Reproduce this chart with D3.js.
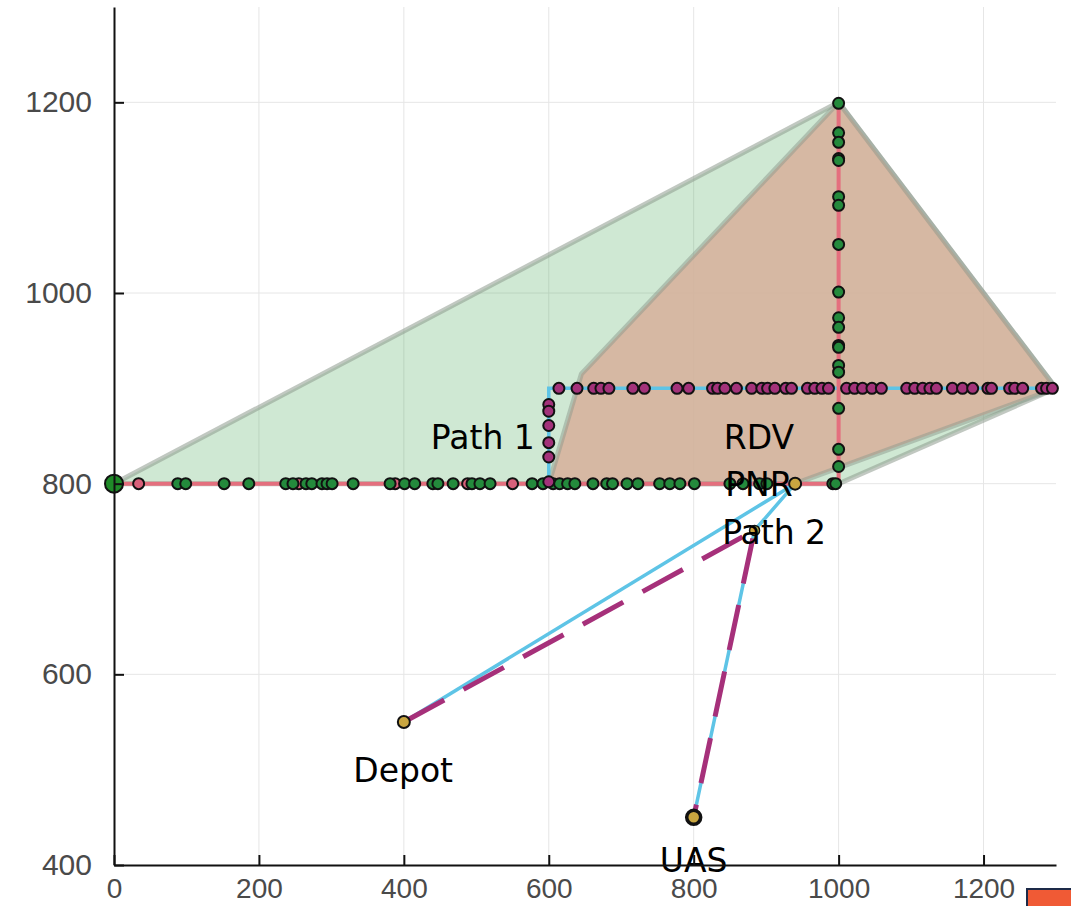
<!DOCTYPE html>
<html>
<head>
<meta charset="utf-8">
<script src="https://cdn.jsdelivr.net/npm/d3@7"></script>
<style>
  html, body { margin: 0; padding: 0; background: #fff; }
  svg { display: block; }
</style>
</head>
<body>
<div id="container"></div>
<script>
const W = 1071, H = 906;

// axes
const xTicks = [0, 200, 400, 600, 800, 1000, 1200];
const yTicks = [400, 600, 800, 1000, 1200];

// reachable regions (polygons)
const greenHull = [[0, 800], [1000, 1200], [1300, 900], [1000, 800]];
const brownHull = [[600, 800], [645, 915], [1000, 1200], [1300, 900], [940, 800]];

// path 1 (red) and its offset (cyan)
const redPath = [[0, 800], [1000, 800], [1000, 1200]];
const cyanPath = [[600, 800], [600, 900], [1300, 900]];
// path 2
const cyanDepot = [[400, 550], [940, 800]];
const cyanUas = [[940, 800], [884, 751], [800, 450]];
const dashedPath = [[400, 550], [884, 751], [800, 450]];

// samples along y = 800
const greenX800 = [88, 99, 152, 186, 237, 247, 265, 273, 287, 294, 301, 330, 381, 401, 415,
  440, 447, 468, 494, 505, 519, 577, 592, 606, 615, 626, 636, 661, 680, 688, 708, 723,
  753, 767, 781, 801, 850, 868, 891, 901, 992, 996];
const redX800 = [34, 255, 388, 488, 550];
// samples along x = 1000
const greenY1000 = [1199, 1168, 1158, 1141, 1139, 1101, 1092, 1051, 1001, 974, 964, 945,
  943, 924, 917, 879, 836, 818];
// samples along y = 900
const purpleX900 = [614, 639, 662, 672, 683, 716, 732, 777, 793, 826, 833, 843, 859, 880,
  894, 902, 912, 927, 935, 957, 967, 977, 986, 1011, 1022, 1033, 1046, 1059, 1094, 1105,
  1116, 1126, 1135, 1157, 1171, 1185, 1206, 1211, 1236, 1243, 1254, 1280, 1287, 1295];
// samples along x = 600
const purpleY600 = [883, 876, 861, 843, 828, 802];

// key points
const keyPoints = [
  { x: 400, y: 550, r: 6, sw: 2 },
  { x: 940, y: 800, r: 6, sw: 2 },
  { x: 884, y: 751, r: 5, sw: 1.5 },
  { x: 800, y: 450, r: 7, sw: 3.5 }
];

// labels
const labels = [
  { t: "Path 1", x: 509, y: 849 },
  { t: "RDV", x: 890, y: 849 },
  { t: "PNR", x: 890, y: 800 },
  { t: "Path 2", x: 911, y: 749 },
  { t: "Depot", x: 399, y: 500 },
  { t: "UAS", x: 800, y: 405 }
];

const x = d3.scaleLinear().domain([0, 1300]).range([114, 1056]);
const y = d3.scaleLinear().domain([400, 1300]).range([865, 7]);

const svg = d3.select("#container").append("svg")
  .attr("width", W).attr("height", H);

// grid
const grid = svg.append("g").attr("id", "grid");
grid.selectAll("line.v").data(xTicks.filter(d => d > 0)).enter().append("line")
  .attr("x1", d => x(d)).attr("x2", d => x(d))
  .attr("y1", y(400)).attr("y2", y(1300))
  .attr("stroke", "#e6e6e6").attr("stroke-width", 1);
grid.selectAll("line.h").data(yTicks.filter(d => d > 400)).enter().append("line")
  .attr("y1", d => y(d)).attr("y2", d => y(d))
  .attr("x1", x(0)).attr("x2", x(1300))
  .attr("stroke", "#e6e6e6").attr("stroke-width", 1);

const line = d3.line().x(d => x(d[0])).y(d => y(d[1]));
const poly = pts => line(pts) + "Z";

// polygons
svg.append("path").attr("d", poly(greenHull))
  .attr("fill", "#3ea44e").attr("fill-opacity", 0.25)
  .attr("stroke", "#8e9a8e").attr("stroke-opacity", 0.55).attr("stroke-width", 5)
  .attr("stroke-linejoin", "round");
svg.append("path").attr("d", poly(brownHull))
  .attr("fill", "#d6b29d").attr("fill-opacity", 0.9)
  .attr("stroke", "#8e9a8e").attr("stroke-opacity", 0.5).attr("stroke-width", 5)
  .attr("stroke-linejoin", "round");

// lines
svg.append("path").attr("d", line(cyanPath))
  .attr("fill", "none").attr("stroke", "#5ec4e6").attr("stroke-width", 3.5);
svg.append("path").attr("d", line(redPath))
  .attr("fill", "none").attr("stroke", "#e46f7e").attr("stroke-width", 4);
svg.append("path").attr("d", line(cyanDepot))
  .attr("fill", "none").attr("stroke", "#5ec4e6").attr("stroke-width", 3.5);
svg.append("path").attr("d", line(cyanUas))
  .attr("fill", "none").attr("stroke", "#5ec4e6").attr("stroke-width", 3.5);
svg.append("path").attr("d", line(dashedPath))
  .attr("fill", "none").attr("stroke", "#a6307a").attr("stroke-width", 5)
  .attr("stroke-dasharray", "46,22");

// points
function dots(data, cls, color, r) {
  svg.append("g").attr("class", cls).selectAll("circle").data(data).enter().append("circle")
    .attr("cx", d => x(d[0])).attr("cy", d => y(d[1])).attr("r", r)
    .attr("fill", color).attr("stroke", "#111").attr("stroke-width", 2);
}
dots(redX800.map(v => [v, 800]), "red", "#d8607a", 5.5);
dots(greenX800.map(v => [v, 800]), "green", "#248a3c", 5.5);
dots(greenY1000.map(v => [1000, v]), "green2", "#248a3c", 5.5);
dots(purpleY600.map(v => [600, v]), "purple", "#a3327a", 5.5);
dots(purpleX900.map(v => [v, 900]), "purple2", "#a3327a", 5.5);

svg.append("circle").attr("cx", x(0)).attr("cy", y(800)).attr("r", 9)
  .attr("fill", "#1f8a28").attr("stroke", "#111").attr("stroke-width", 2);

svg.append("g").selectAll("circle").data(keyPoints).enter().append("circle")
  .attr("cx", d => x(d.x)).attr("cy", d => y(d.y)).attr("r", d => d.r)
  .attr("fill", "#c9a640").attr("stroke", "#111").attr("stroke-width", d => d.sw);

// labels
svg.append("g").selectAll("text").data(labels).enter().append("text")
  .attr("x", d => x(d.x)).attr("y", d => y(d.y)).attr("dy", "0.36em")
  .attr("text-anchor", "middle")
  .style("font-family", "DejaVu Sans").style("font-size", "33px").attr("fill", "#000")
  .text(d => d.t);

// axes
const fmt = d3.format("d");
const axL = svg.append("g").attr("transform", `translate(${x(0)},0)`)
  .call(d3.axisLeft(y).tickValues(yTicks).tickFormat(fmt)
    .tickSizeInner(-10).tickSizeOuter(0).tickPadding(22));
const axB = svg.append("g").attr("transform", `translate(0,${y(400)})`)
  .call(d3.axisBottom(x).tickValues(xTicks).tickFormat(fmt)
    .tickSizeInner(-10).tickSizeOuter(0).tickPadding(13));
[axL, axB].forEach(a => {
  a.select(".domain").attr("stroke", "#111").attr("stroke-width", 2);
  a.selectAll(".tick line").attr("stroke", "#111").attr("stroke-width", 2);
  a.selectAll(".tick text").style("font-family", "Liberation Sans, Arial, sans-serif")
    .style("font-size", "30px").attr("fill", "#4a4a4a");
});
axB.selectAll(".tick text").style("font-size", "28px");

// corner badge
svg.append("rect").attr("x", 1027).attr("y", 889).attr("width", 46).attr("height", 20)
  .attr("fill", "#f05a35").attr("stroke", "#1d2a48").attr("stroke-width", 2);
</script>
</body>
</html>
